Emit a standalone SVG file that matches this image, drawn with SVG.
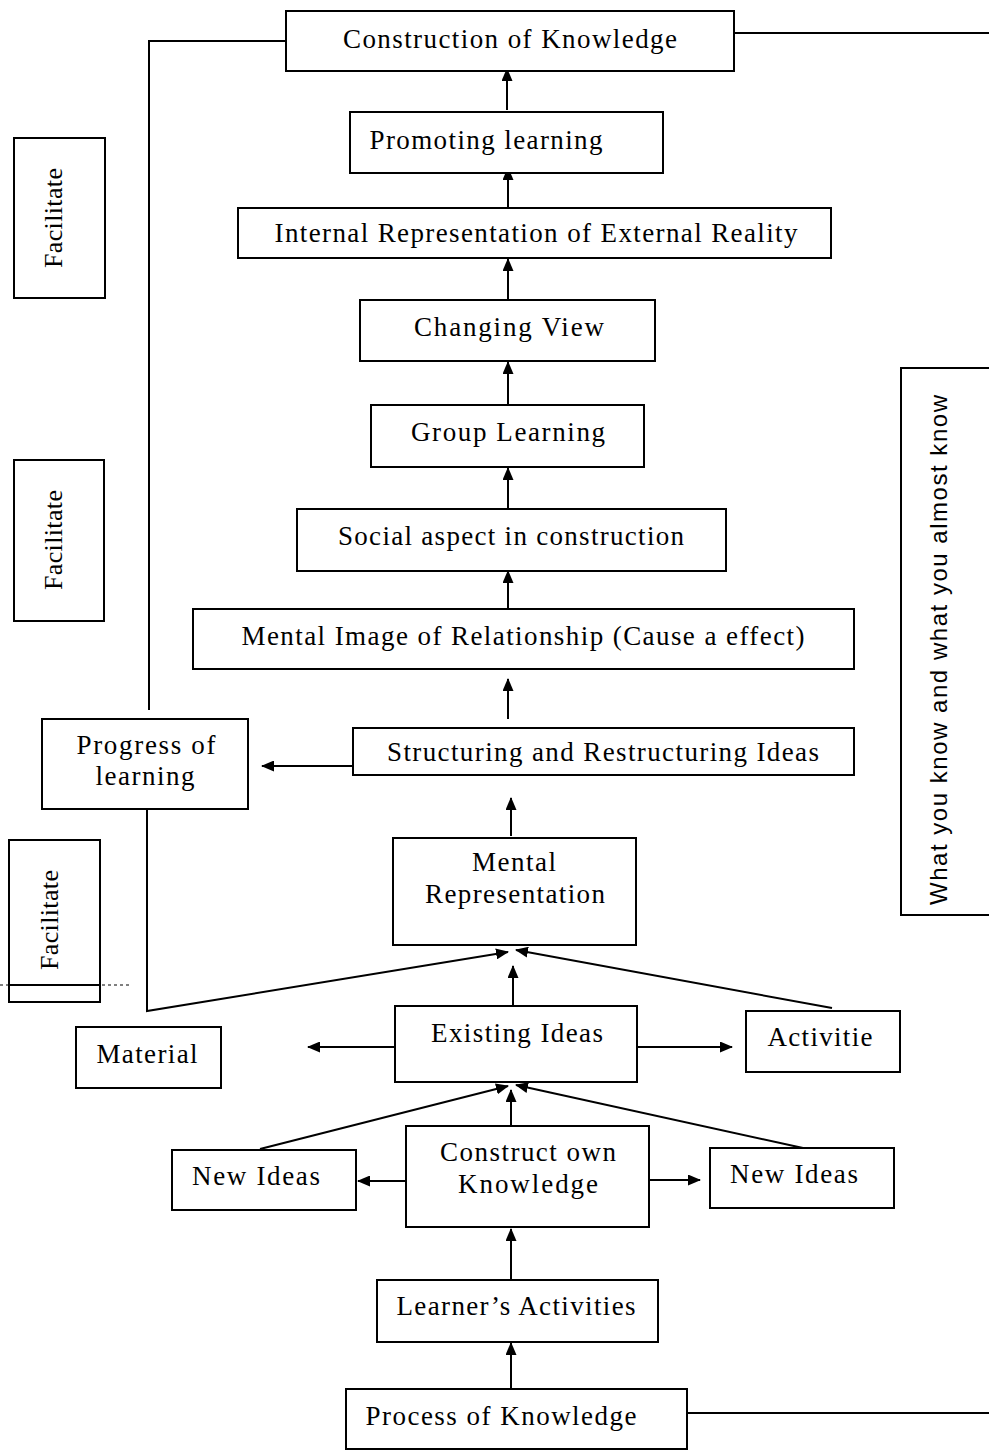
<svg xmlns="http://www.w3.org/2000/svg" width="989" height="1451" viewBox="0 0 989 1451">
<defs>
<marker id="ah" markerUnits="userSpaceOnUse" markerWidth="13" markerHeight="11" refX="12" refY="5.5" orient="auto">
<path d="M0,0 L13,5.5 L0,11 z" fill="#000"/>
</marker>
<style>
.box{fill:#fff;stroke:#000;stroke-width:2}
.t{font-family:"Liberation Serif","Times New Roman",serif;font-size:27px;fill:#000;text-anchor:middle}
.f{font-family:"Liberation Serif","Times New Roman",serif;font-size:26px;fill:#000;text-anchor:middle}
.s{font-family:"Liberation Sans",Arial,sans-serif;font-size:24px;fill:#000;text-anchor:middle}
.c{fill:none;stroke:#000;stroke-width:2}
.a{fill:none;stroke:#000;stroke-width:2;marker-end:url(#ah)}
</style>
</defs>
<rect width="989" height="1451" fill="#fff"/>
<g id="connectors">
<polyline class="c" points="286,41 149,41 149,710"/>
<line class="c" x1="734" y1="33" x2="989" y2="33"/>
<line class="c" x1="687" y1="1413" x2="989" y2="1413"/>
<line class="a" x1="507" y1="110" x2="507" y2="69"/>
<line class="a" x1="508" y1="207" x2="508" y2="168"/>
<line class="a" x1="508" y1="299" x2="508" y2="259"/>
<line class="a" x1="508" y1="404" x2="508" y2="362"/>
<line class="a" x1="508" y1="508" x2="508" y2="468"/>
<line class="a" x1="508" y1="609" x2="508" y2="571"/>
<line class="a" x1="508" y1="719" x2="508" y2="679"/>
<line class="a" x1="511" y1="836" x2="511" y2="798"/>
<line class="a" x1="353" y1="766" x2="262" y2="766"/>
<polyline class="a" points="147,809 147,1011 508,952"/>
<line class="a" x1="832" y1="1008" x2="516" y2="950"/>
<line class="a" x1="513" y1="1006" x2="513" y2="966"/>
<line class="a" x1="395" y1="1047" x2="308" y2="1047"/>
<line class="a" x1="637" y1="1047" x2="732" y2="1047"/>
<line class="a" x1="260" y1="1149" x2="508" y2="1086"/>
<line class="a" x1="511" y1="1126" x2="511" y2="1090"/>
<line class="a" x1="803" y1="1148" x2="516" y2="1085"/>
<line class="a" x1="406" y1="1181" x2="358" y2="1181"/>
<line class="a" x1="649" y1="1180" x2="700" y2="1180"/>
<line class="a" x1="511" y1="1280" x2="511" y2="1229"/>
<line class="a" x1="511" y1="1389" x2="511" y2="1343"/>
</g>
<g id="n-construction"><rect class="box" x="286" y="11" width="448" height="60"/><text class="t" x="510" y="48" textLength="334" lengthAdjust="spacing">Construction of Knowledge</text></g>
<g id="n-promoting"><rect class="box" x="350" y="112" width="313" height="61"/><text class="t" x="486" y="149" textLength="233" lengthAdjust="spacing">Promoting learning</text></g>
<g id="n-internal"><rect class="box" x="238" y="208" width="593" height="50"/><text class="t" x="536" y="242" textLength="523" lengthAdjust="spacing">Internal Representation of External Reality</text></g>
<g id="n-changing"><rect class="box" x="360" y="300" width="295" height="61"/><text class="t" x="509" y="336" textLength="190" lengthAdjust="spacing">Changing View</text></g>
<g id="n-group"><rect class="box" x="371" y="405" width="273" height="62"/><text class="t" x="508" y="441" textLength="194" lengthAdjust="spacing">Group Learning</text></g>
<g id="n-social"><rect class="box" x="297" y="509" width="429" height="62"/><text class="t" x="511" y="545" textLength="346" lengthAdjust="spacing">Social aspect in construction</text></g>
<g id="n-mentalimage"><rect class="box" x="193" y="609" width="661" height="60"/><text class="t" x="523" y="645" textLength="563" lengthAdjust="spacing">Mental Image of Relationship (Cause a effect)</text></g>
<g id="n-structuring"><rect class="box" x="353" y="728" width="501" height="47"/><text class="t" x="603" y="761" textLength="432" lengthAdjust="spacing">Structuring and Restructuring Ideas</text></g>
<g id="n-progress"><rect class="box" x="42" y="719" width="206" height="90"/><text class="t" x="146" y="754" textLength="139" lengthAdjust="spacing">Progress of</text><text class="t" x="145" y="785" textLength="99" lengthAdjust="spacing">learning</text></g>
<g id="n-mentalrep"><rect class="box" x="393" y="838" width="243" height="107"/><text class="t" x="514" y="871" textLength="84" lengthAdjust="spacing">Mental</text><text class="t" x="515" y="903" textLength="180" lengthAdjust="spacing">Representation</text></g>
<g id="n-existing"><rect class="box" x="395" y="1006" width="242" height="76"/><text class="t" x="517" y="1042" textLength="172" lengthAdjust="spacing">Existing Ideas</text></g>
<g id="n-activitie"><rect class="box" x="746" y="1011" width="154" height="61"/><text class="t" x="820" y="1046" textLength="105" lengthAdjust="spacing">Activitie</text></g>
<g id="n-material"><rect class="box" x="76" y="1027" width="145" height="61"/><text class="t" x="147" y="1063" textLength="101" lengthAdjust="spacing">Material</text></g>
<g id="n-construct"><rect class="box" x="406" y="1126" width="243" height="101"/><text class="t" x="528" y="1161" textLength="176" lengthAdjust="spacing">Construct own</text><text class="t" x="528" y="1193" textLength="140" lengthAdjust="spacing">Knowledge</text></g>
<g id="n-newideas-l"><rect class="box" x="172" y="1150" width="184" height="60"/><text class="t" x="256" y="1185" textLength="128" lengthAdjust="spacing">New Ideas</text></g>
<g id="n-newideas-r"><rect class="box" x="710" y="1148" width="184" height="60"/><text class="t" x="794" y="1183" textLength="128" lengthAdjust="spacing">New Ideas</text></g>
<g id="n-learner"><rect class="box" x="377" y="1280" width="281" height="62"/><text class="t" x="516" y="1315" textLength="239" lengthAdjust="spacing">Learner’s Activities</text></g>
<g id="n-process"><rect class="box" x="346" y="1389" width="341" height="60"/><text class="t" x="501" y="1425" textLength="271" lengthAdjust="spacing">Process of Knowledge</text></g>
<g id="n-facilitate1"><rect class="box" x="14" y="138" width="91" height="160"/><text class="f" transform="translate(62,218) rotate(-90)" x="0" y="0" textLength="100" lengthAdjust="spacing">Facilitate</text></g>
<g id="n-facilitate2"><rect class="box" x="14" y="460" width="90" height="161"/><text class="f" transform="translate(62,540) rotate(-90)" x="0" y="0" textLength="100" lengthAdjust="spacing">Facilitate</text></g>
<g id="n-facilitate3"><rect class="box" x="9" y="840" width="91" height="162"/><text class="f" transform="translate(58,920) rotate(-90)" x="0" y="0" textLength="100" lengthAdjust="spacing">Facilitate</text>
<line x1="9" y1="985" x2="100" y2="985" stroke="#000" stroke-width="2"/>
<line x1="0" y1="985" x2="130" y2="985" stroke="#000" stroke-width="1" stroke-dasharray="3,3"/></g>
<g id="n-whatyouknow"><rect class="box" x="901" y="368" width="90" height="547"/><text class="s" transform="translate(947,650) rotate(-90)" x="0" y="0" textLength="510" lengthAdjust="spacing">What you know and what you almost know</text></g>
</svg>
